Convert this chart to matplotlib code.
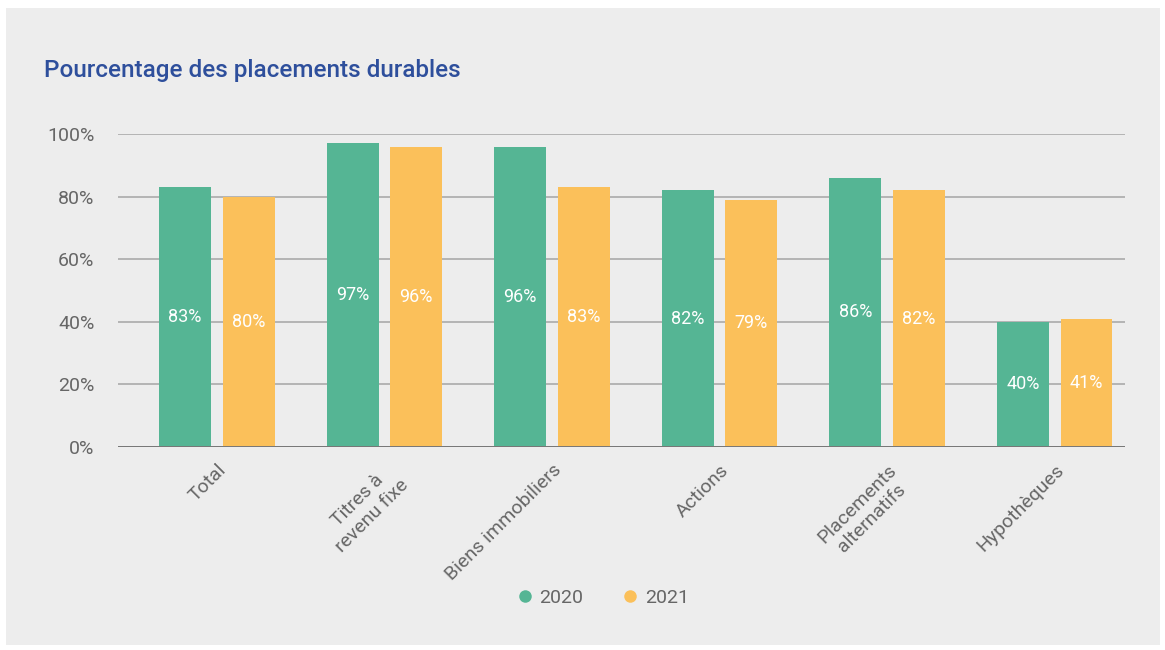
import matplotlib.pyplot as plt
import matplotlib as mpl
from matplotlib.patches import Rectangle
from matplotlib.lines import Line2D
import numpy as np

mpl.rcParams['font.family'] = ['Roboto', 'DejaVu Sans']

categories = ['Total', 'Titres à\nrevenu fixe', 'Biens immobiliers', 'Actions',
              'Placements\nalternatifs', 'Hypothèques']
vals_2020 = [83, 97, 96, 82, 86, 40]
vals_2021 = [80, 96, 83, 79, 82, 41]
yticks = [0, 20, 40, 60, 80, 100]

green = '#55b594'
yellow = '#fbc05a'
bg = '#ededed'
txt = '#666666'

fig = plt.figure(figsize=(11.65, 6.5), dpi=100)
fig.patch.set_facecolor('white')
# grey panel behind the chart
fig.patches.append(Rectangle((6 / 1165, 5 / 650), 1154 / 1165, 637 / 650,
                             transform=fig.transFigure, facecolor=bg,
                             edgecolor='none', zorder=-1))

ax = fig.add_axes([0.1013, 0.3123, 0.8644, 0.4815])
ax.set_facecolor(bg)

x = np.arange(len(categories))
w = 0.31
b1 = ax.bar(x - 0.19, vals_2020, w, color=green, zorder=3)
b2 = ax.bar(x + 0.19, vals_2021, w, color=yellow, zorder=3)

# value labels in the middle of each bar
for bars, vals in ((b1, vals_2020), (b2, vals_2021)):
    for r, v in zip(bars, vals):
        ax.text(r.get_x() + r.get_width() / 2, v / 2, f'{v}%',
                ha='center', va='center', color='white', fontsize=13,
                zorder=4)

ax.set_xlim(-0.59, len(categories) - 0.58)
ax.set_ylim(0, 100)
ax.set_yticks(yticks)
ax.set_yticklabels([f'{t}%' for t in yticks])
ax.yaxis.grid(True, color='#aaaaaa', linewidth=1.2, zorder=0)
ax.axhline(0, color='#777777', linewidth=1.4, zorder=5)

for s in ax.spines.values():
    s.set_visible(False)
ax.tick_params(axis='both', length=0, labelsize=14, labelcolor=txt)
ax.tick_params(axis='y', pad=17)
ax.set_xticks(x)
ax.set_xticklabels(categories, rotation=45, ha='right', rotation_mode='anchor',
                   multialignment='center')
ax.tick_params(axis='x', pad=10)

fig.text(44 / 1165, 1 - 70 / 650, 'Pourcentage des placements durables',
         fontsize=17.5, fontweight='medium', color='#2e4f9c', va='center')

handles = [Line2D([], [], marker='o', linestyle='none', markersize=9,
                  markerfacecolor=green, markeredgecolor='none', label='2020'),
           Line2D([], [], marker='o', linestyle='none', markersize=9,
                  markerfacecolor=yellow, markeredgecolor='none', label='2021')]
leg = fig.legend(handles=handles, loc='center', bbox_to_anchor=(0.518, 1 - 598 / 650),
                 ncol=2, frameon=False, fontsize=14, handlelength=0.7,
                 handletextpad=0.4, columnspacing=2.06)
for t in leg.get_texts():
    t.set_color(txt)

fig.savefig('out.png', dpi=100, facecolor=fig.get_facecolor())
